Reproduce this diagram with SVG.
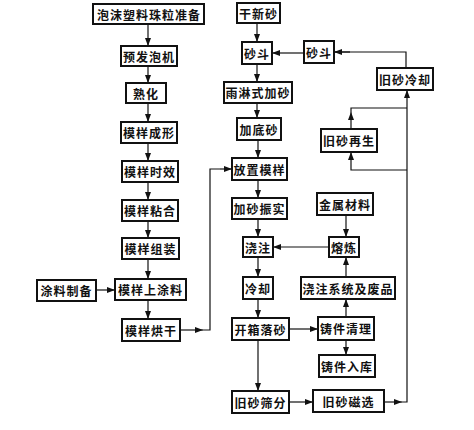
<svg xmlns="http://www.w3.org/2000/svg" width="474" height="430" viewBox="0 0 474 430">
<style>
.b rect{fill:#fff;stroke:#111;stroke-width:2}
.b text{font-family:"Noto Sans CJK SC","Noto Sans",sans-serif;font-weight:bold;font-size:12px;letter-spacing:1px;text-anchor:middle;dominant-baseline:central;fill:#111}
#conn line,#conn polyline{stroke:#111;stroke-width:1.2;fill:none}
</style>
<defs>
<marker id="a" viewBox="0 0 8 6" refX="8" refY="3" markerWidth="8" markerHeight="6" markerUnits="userSpaceOnUse" orient="auto"><path d="M0,0 L8,3 L0,6 Z" fill="#111"/></marker>
</defs>
<rect width="474" height="430" fill="#fff"/>
<g id="conn">
<line x1="148" y1="24" x2="148" y2="46" marker-end="url(#a)"/>
<line x1="148" y1="66" x2="148" y2="83" marker-end="url(#a)"/>
<line x1="148" y1="103" x2="148" y2="122" marker-end="url(#a)"/>
<line x1="148" y1="143" x2="148" y2="161" marker-end="url(#a)"/>
<line x1="148" y1="182" x2="148" y2="200" marker-end="url(#a)"/>
<line x1="148" y1="221" x2="148" y2="238" marker-end="url(#a)"/>
<line x1="148" y1="259" x2="148" y2="279" marker-end="url(#a)"/>
<line x1="148" y1="300" x2="148" y2="319" marker-end="url(#a)"/>
<line x1="96" y1="290" x2="115" y2="290" marker-end="url(#a)"/>
<line x1="180" y1="330" x2="203" y2="330" marker-end="url(#a)"/>
<polyline points="203,330 210,330 210,169 220,169"/>
<line x1="220" y1="169" x2="232" y2="169" marker-end="url(#a)"/>
<line x1="257" y1="23" x2="257" y2="42" marker-end="url(#a)"/>
<line x1="304" y1="53" x2="272" y2="53" marker-end="url(#a)"/>
<polyline points="406,68 406,52 334,52"/>
<line x1="350" y1="52" x2="334" y2="52" marker-end="url(#a)"/>
<line x1="257" y1="64" x2="257" y2="82" marker-end="url(#a)"/>
<line x1="257" y1="103" x2="257" y2="118" marker-end="url(#a)"/>
<line x1="258" y1="140" x2="258" y2="158" marker-end="url(#a)"/>
<line x1="258" y1="180" x2="258" y2="198" marker-end="url(#a)"/>
<line x1="258" y1="219" x2="258" y2="237" marker-end="url(#a)"/>
<line x1="329" y1="247" x2="273" y2="247" marker-end="url(#a)"/>
<line x1="346" y1="215" x2="346" y2="237" marker-end="url(#a)"/>
<line x1="258" y1="257" x2="258" y2="277" marker-end="url(#a)"/>
<line x1="346" y1="277" x2="346" y2="257" marker-end="url(#a)"/>
<line x1="258" y1="299" x2="258" y2="318" marker-end="url(#a)"/>
<line x1="289" y1="329" x2="318" y2="329" marker-end="url(#a)"/>
<line x1="346" y1="317" x2="346" y2="299" marker-end="url(#a)"/>
<line x1="346" y1="340" x2="346" y2="355" marker-end="url(#a)"/>
<line x1="258" y1="340" x2="258" y2="391" marker-end="url(#a)"/>
<line x1="289" y1="402" x2="313" y2="402" marker-end="url(#a)"/>
<line x1="384" y1="402" x2="402" y2="402" marker-end="url(#a)"/>
<polyline points="402,402 407,402 407,100"/>
<line x1="407" y1="100" x2="407" y2="90" marker-end="url(#a)"/>
<polyline points="407,170 351,170 351,160"/>
<line x1="351" y1="160" x2="351" y2="152" marker-end="url(#a)"/>
<line x1="351" y1="129" x2="351" y2="112" marker-end="url(#a)"/>
<polyline points="351,112 351,108 407,108"/>
</g>
<g id="n1" class="b"><rect x="93" y="4" width="111" height="20"/><text x="149" y="14">泡沫塑料珠粒准备</text></g>
<g id="n2" class="b"><rect x="121" y="46" width="56" height="20"/><text x="149" y="56">预发泡机</text></g>
<g id="n3" class="b"><rect x="126" y="83" width="40" height="20"/><text x="146" y="93">熟化</text></g>
<g id="n4" class="b"><rect x="121" y="122" width="56" height="21"/><text x="149" y="132.5">模样成形</text></g>
<g id="n5" class="b"><rect x="122" y="161" width="56" height="21"/><text x="150" y="171.5">模样时效</text></g>
<g id="n6" class="b"><rect x="122" y="200" width="56" height="21"/><text x="150" y="210.5">模样粘合</text></g>
<g id="n7" class="b"><rect x="122" y="238" width="57" height="21"/><text x="150.5" y="248.5">模样组装</text></g>
<g id="n8" class="b"><rect x="115" y="279" width="71" height="21"/><text x="150.5" y="289.5">模样上涂料</text></g>
<g id="n9" class="b"><rect x="37" y="280" width="59" height="21"/><text x="66.5" y="290.5">涂料制备</text></g>
<g id="n10" class="b"><rect x="122" y="319" width="58" height="22"/><text x="151" y="330">模样烘干</text></g>
<g id="n11" class="b"><rect x="237" y="3" width="43" height="20"/><text x="258.5" y="13">干新砂</text></g>
<g id="n12" class="b"><rect x="242" y="42" width="30" height="22"/><text x="257" y="53">砂斗</text></g>
<g id="n13" class="b"><rect x="304" y="41" width="30" height="22"/><text x="319" y="52">砂斗</text></g>
<g id="n14" class="b"><rect x="377" y="68" width="56" height="22"/><text x="405" y="79">旧砂冷却</text></g>
<g id="n15" class="b"><rect x="224" y="82" width="68" height="21"/><text x="258" y="92.5">雨淋式加砂</text></g>
<g id="n16" class="b"><rect x="237" y="118" width="44" height="22"/><text x="259" y="129">加底砂</text></g>
<g id="n17" class="b"><rect x="321" y="129" width="56" height="23"/><text x="349" y="140.5">旧砂再生</text></g>
<g id="n18" class="b"><rect x="232" y="158" width="55" height="22"/><text x="259.5" y="169">放置模样</text></g>
<g id="n19" class="b"><rect x="232" y="198" width="55" height="21"/><text x="259.5" y="208.5">加砂振实</text></g>
<g id="n20" class="b"><rect x="317" y="193" width="56" height="22"/><text x="345" y="204">金属材料</text></g>
<g id="n21" class="b"><rect x="243" y="237" width="30" height="20"/><text x="258" y="247">浇注</text></g>
<g id="n22" class="b"><rect x="329" y="237" width="30" height="20"/><text x="344" y="247">熔炼</text></g>
<g id="n23" class="b"><rect x="243" y="277" width="30" height="22"/><text x="258" y="288">冷却</text></g>
<g id="n24" class="b"><rect x="301" y="277" width="94" height="22"/><text x="348" y="288">浇注系统及废品</text></g>
<g id="n25" class="b"><rect x="232" y="318" width="57" height="22"/><text x="260.5" y="329">开箱落砂</text></g>
<g id="n26" class="b"><rect x="318" y="317" width="56" height="23"/><text x="346" y="328.5">铸件清理</text></g>
<g id="n27" class="b"><rect x="319" y="355" width="56" height="22"/><text x="347" y="366">铸件入库</text></g>
<g id="n28" class="b"><rect x="232" y="391" width="57" height="22"/><text x="260.5" y="402">旧砂筛分</text></g>
<g id="n29" class="b"><rect x="313" y="390" width="71" height="22"/><text x="348.5" y="401">旧砂磁选</text></g>
</svg>
